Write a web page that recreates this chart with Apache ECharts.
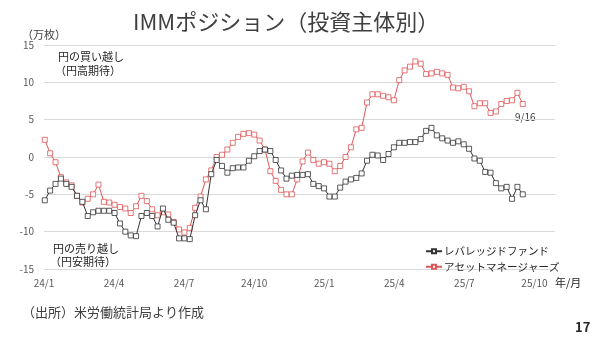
<!DOCTYPE html>
<html>
<head>
<meta charset="utf-8">
<script src="https://cdn.jsdelivr.net/npm/echarts@6/dist/echarts.min.js"></script>
<style>
  html, body { margin: 0; padding: 0; background: #fff; }
  #chart { width: 600px; height: 342px; }
</style>
</head>
<body>
<div id="chart"></div>
<script>
// Weekly IMM report dates: first report 2024-01-02, last 2025-09-16
const firstReport = '2024-01-02';
const weekCount = 90;

// Quarter tick labels (year/month)
const tickLabels = ['24/1', '24/4', '24/7', '24/10', '25/1', '25/4', '25/7', '25/10'];

// Net yen positions, 10,000 contracts
const leveragedFunds = [
  -5.8, -4.5, -3.6, -2.9, -3.6, -4.0, -5.2, -6.0, -7.9, -7.4,
  -7.2, -7.2, -7.2, -7.5, -8.9, -10.0, -10.5, -10.6, -7.9, -7.5,
  -7.9, -9.3, -6.9, -8.4, -8.8, -10.9, -10.9, -11.0, -7.8, -5.8,
  -7.0, -2.3, -0.4, -1.2, -2.1, -1.5, -1.4, -1.4, -0.5, 0.1,
  0.8, 1.0, 0.8, -0.4, -1.8, -2.9, -2.5, -2.4, -2.4, -2.3,
  -3.6, -3.9, -4.2, -5.3, -5.3, -4.1, -3.3, -3.0, -2.8, -2.2,
  -0.5, 0.3, 0.2, -0.4, 0.4, 1.3, 1.9, 1.9, 2.0, 2.0,
  2.4, 3.5, 3.9, 2.9, 2.5, 2.2, 1.9, 2.1, 1.7, 1.1,
  -0.2, -0.5, -2.0, -2.1, -3.5, -4.2, -4.0, -5.6, -4.0, -5.0
];

const assetManagers = [
  2.3, 0.5, -0.7, -2.7, -3.4, -3.8, -5.2, -6.1, -5.6, -5.0,
  -3.7, -6.0, -6.1, -6.4, -6.7, -6.9, -7.5, -6.6, -5.2, -5.9,
  -7.0, -7.8, -7.4, -7.7, -8.7, -9.7, -10.1, -9.5, -6.8, -5.3,
  -3.0, -1.8, 0.0, 0.3, 1.0, 1.9, 2.7, 3.1, 3.2, 3.0,
  2.2, 1.0, -1.9, -3.2, -4.4, -5.0, -5.0, -3.0, -0.6, 0.6,
  -0.4, -0.9, -0.7, -0.9, -1.9, -1.2, 0.0, 1.3, 3.7, 3.9,
  7.3, 8.4, 8.4, 8.2, 8.0, 7.6, 10.3, 11.6, 12.1, 12.8,
  12.5, 11.1, 11.2, 11.4, 11.2, 11.0, 9.3, 9.2, 9.4, 8.8,
  6.8, 7.2, 7.2, 5.9, 6.1, 7.1, 7.5, 7.6, 8.6, 7.1
];

// x position of each report = days since 2024-01-01
const DAY = 86400000;
const axisOrigin = Date.UTC(2024, 0, 1);
const start = Date.parse(firstReport + 'T00:00:00Z');
const reportDays = [];
for (let i = 0; i < weekCount; i++) {
  reportDays.push((start - axisOrigin) / DAY + 7 * i);
}
const quarterDays = 730.5 / 8;

const toPairs = vals => vals.map((v, i) => [reportDays[i], v]);

const FONT = '"Noto Sans CJK JP", "Noto Sans", sans-serif';
const TEXT = '#404040';
const BLACK = '#333333';
const RED = '#de5656';

const chart = echarts.init(document.getElementById('chart'), null, { renderer: 'canvas' });

chart.setOption({
  animation: false,
  backgroundColor: '#ffffff',
  textStyle: { fontFamily: FONT },
  grid: { left: 44, right: 45, top: 45, bottom: 73 },
  xAxis: {
    type: 'value',
    min: 0,
    max: 666,
    interval: quarterDays,
    axisLine: { show: false },
    axisTick: { show: false },
    splitLine: { show: false },
    axisLabel: {
      margin: 9,
      fontSize: 10,
      color: '#595959',
      fontFamily: FONT,
      showMaxLabel: false,
      formatter: v => {
        const k = Math.round(v / quarterDays);
        return Math.abs(v - k * quarterDays) < 0.5 && tickLabels[k] ? tickLabels[k] : '';
      }
    }
  },
  yAxis: {
    type: 'value',
    min: -15,
    max: 15,
    interval: 5,
    axisLine: { show: false },
    axisTick: { show: false },
    splitLine: { lineStyle: { color: '#d9d9d9', width: 1 } },
    axisLabel: { margin: 10, fontSize: 10, color: '#595959', fontFamily: FONT }
  },
  legend: {
    orient: 'vertical',
    left: 420,
    top: 241,
    itemWidth: 16,
    itemHeight: 5,
    itemGap: 5,
    textStyle: { fontSize: 10.5, color: '#262626', fontFamily: FONT, padding: [0, 0, 0, -3] },
    data: ['レバレッジドファンド', 'アセットマネージャーズ']
  },
  series: [
    {
      name: 'レバレッジドファンド',
      type: 'line',
      data: toPairs(leveragedFunds),
      symbol: 'rect',
      symbolSize: 5,
      lineStyle: { color: BLACK, width: 1 },
      itemStyle: { color: '#ffffff', borderColor: BLACK, borderWidth: 0.8 },
      z: 3
    },
    {
      name: 'アセットマネージャーズ',
      type: 'line',
      data: toPairs(assetManagers),
      symbol: 'rect',
      symbolSize: 5,
      lineStyle: { color: RED, width: 1 },
      itemStyle: { color: '#ffffff', borderColor: RED, borderWidth: 0.8 },
      z: 2
    }
  ],
  graphic: [
    { type: 'text', x: 133, y: 11,
      style: { text: 'IMMポジション（投資主体別）', font: '22px ' + FONT, fill: TEXT } },
    { type: 'text', x: 22, y: 29, style: { text: '（万枚）', font: '11px ' + FONT, fill: TEXT } },
    { type: 'text', x: 58, y: 51, style: { text: '円の買い越し', font: '11px ' + FONT, fill: '#262626' } },
    { type: 'text', x: 55, y: 65, style: { text: '（円高期待）', font: '11px ' + FONT, fill: '#262626' } },
    { type: 'text', x: 53, y: 243, style: { text: '円の売り越し', font: '11px ' + FONT, fill: '#262626' } },
    { type: 'text', x: 50, y: 256, style: { text: '（円安期待）', font: '11px ' + FONT, fill: '#262626' } },
    { type: 'text', x: 515, y: 112, style: { text: '9/16', font: '10px ' + FONT, fill: TEXT } },
    { type: 'text', x: 555, y: 277, style: { text: '年/月', font: '11px ' + FONT, fill: '#262626' } },
    { type: 'text', x: 22, y: 306, style: { text: '（出所）米労働統計局より作成', font: '13px ' + FONT, fill: TEXT } },
    { type: 'text', x: 575, y: 321, style: { text: '17', font: 'bold 13px ' + FONT, fill: '#262626' } }
  ]
});
</script>
</body>
</html>
